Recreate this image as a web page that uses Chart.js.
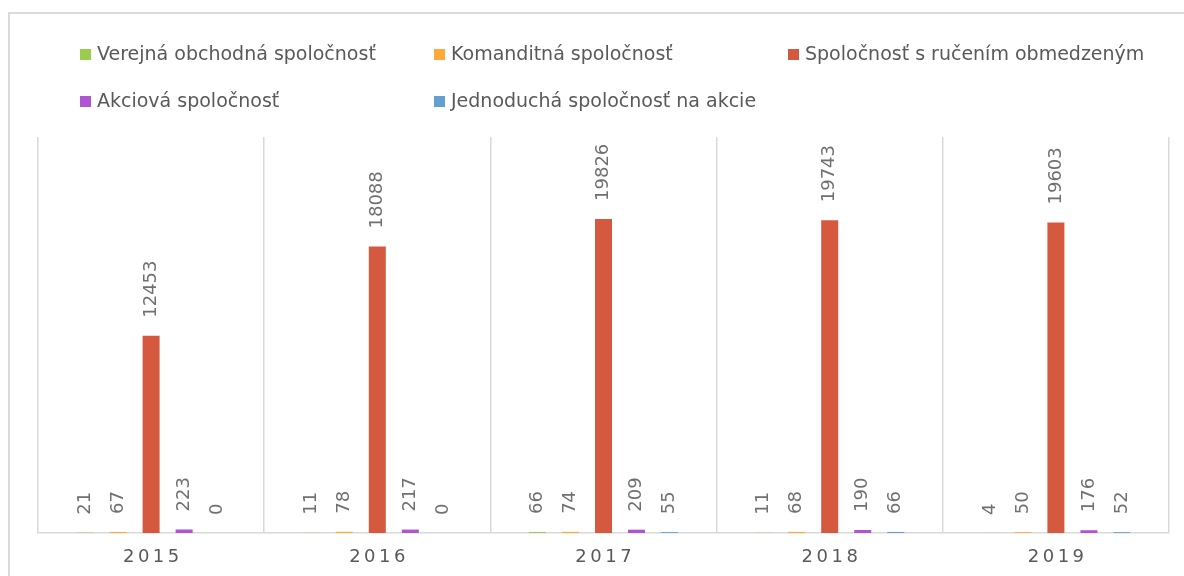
<!DOCTYPE html>
<html>
<head>
<meta charset="utf-8">
<script src="https://cdn.jsdelivr.net/npm/chart.js@4"></script>
<style>
  html, body { margin: 0; padding: 0; background: #fff; overflow: hidden; }
  #wrap { position: relative; width: 1184px; height: 576px; }
  #frame { position: absolute; left: 8px; top: 12px; width: 1300px; height: 700px; border: 2px solid #dadada; box-sizing: border-box; }
  canvas { position: absolute; left: 0; top: 0; }
</style>
</head>
<body>
<div id="wrap">
  <div id="frame"></div>
  <canvas id="chart" width="1184" height="576"></canvas>
</div>
<script>
const years = ['2015', '2016', '2017', '2018', '2019'];
const seriesNames = [
  'Verejná obchodná spoločnosť',
  'Komanditná spoločnosť',
  'Spoločnosť s ručením obmedzeným',
  'Akciová spoločnosť',
  'Jednoduchá spoločnosť na akcie'
];
const vos = [21, 11, 66, 11, 4];
const ks = [67, 78, 74, 68, 50];
const sro = [12453, 18088, 19826, 19743, 19603];
const as = [223, 217, 209, 190, 176];
const jsa = [0, 0, 55, 66, 52];

const COLORS = ['#9bcc4c', '#ffa93a', '#d5593f', '#b055d2', '#62a0cf'];
const TEXT = '#595959';
const LABEL_TEXT = '#707070';
const FONT = '"DejaVu Sans", sans-serif';

// labels above bars, rotated like in excel
const barLabels = {
  id: 'barLabels',
  afterDatasetsDraw(chart) {
    const ctx = chart.ctx;
    ctx.save();
    ctx.fillStyle = LABEL_TEXT;
    ctx.font = '18px ' + FONT;
    ctx.textAlign = 'left';
    ctx.textBaseline = 'middle';
    chart.data.datasets.forEach((ds, i) => {
      chart.getDatasetMeta(i).data.forEach((bar, j) => {
        ctx.save();
        ctx.translate(bar.x, bar.y - 18);
        ctx.rotate(-Math.PI / 2);
        ctx.fillText(String(ds.data[j]), 0, 0);
        ctx.restore();
      });
    });
    ctx.restore();
  }
};

// year labels with letter spacing
const yearTicks = {
  id: 'yearTicks',
  afterDraw(chart) {
    const ctx = chart.ctx;
    const xs = chart.scales.x;
    ctx.save();
    ctx.fillStyle = TEXT;
    ctx.font = '18px ' + FONT;
    ctx.letterSpacing = '3.5px';
    ctx.textAlign = 'center';
    ctx.textBaseline = 'middle';
    chart.data.labels.forEach((lbl, i) => {
      ctx.fillText(lbl, xs.getPixelForValue(i) + 1.75, 557);
    });
    ctx.restore();
  }
};

// legend in 3 columns
const gridLegend = {
  id: 'gridLegend',
  afterDraw(chart) {
    const ctx = chart.ctx;
    ctx.save();
    ctx.font = '19px ' + FONT;
    ctx.textBaseline = 'middle';
    ctx.textAlign = 'left';
    chart.data.datasets.forEach((ds, i) => {
      const col = i % 3, row = Math.floor(i / 3);
      const x = 80 + col * 354;
      const y = 55 + row * 47;
      ctx.fillStyle = ds.backgroundColor;
      ctx.fillRect(x, y - 6, 11, 11);
      ctx.fillStyle = TEXT;
      ctx.fillText(ds.label, x + 17, y);
    });
    ctx.restore();
  }
};

const allSeries = [vos, ks, sro, as, jsa];

new Chart(document.getElementById('chart'), {
  type: 'bar',
  data: {
    labels: years,
    datasets: allSeries.map((d, i) => ({
      label: seriesNames[i],
      data: d,
      backgroundColor: COLORS[i],
      categoryPercentage: 0.73,
      barPercentage: 0.515
    }))
  },
  options: {
    responsive: false,
    animation: false,
    layout: { padding: { left: 38, right: 15, top: 137, bottom: 43 } },
    plugins: {
      legend: { display: false },
      tooltip: { enabled: false }
    },
    scales: {
      x: {
        grid: { color: '#d9d9d9', lineWidth: 1.5, drawTicks: false, offset: true },
        border: { color: '#d9d9d9', width: 1.5 },
        ticks: { display: false }
      },
      y: {
        display: false,
        min: 0,
        max: 25000
      }
    }
  },
  plugins: [barLabels, yearTicks, gridLegend]
});
</script>
</body>
</html>
